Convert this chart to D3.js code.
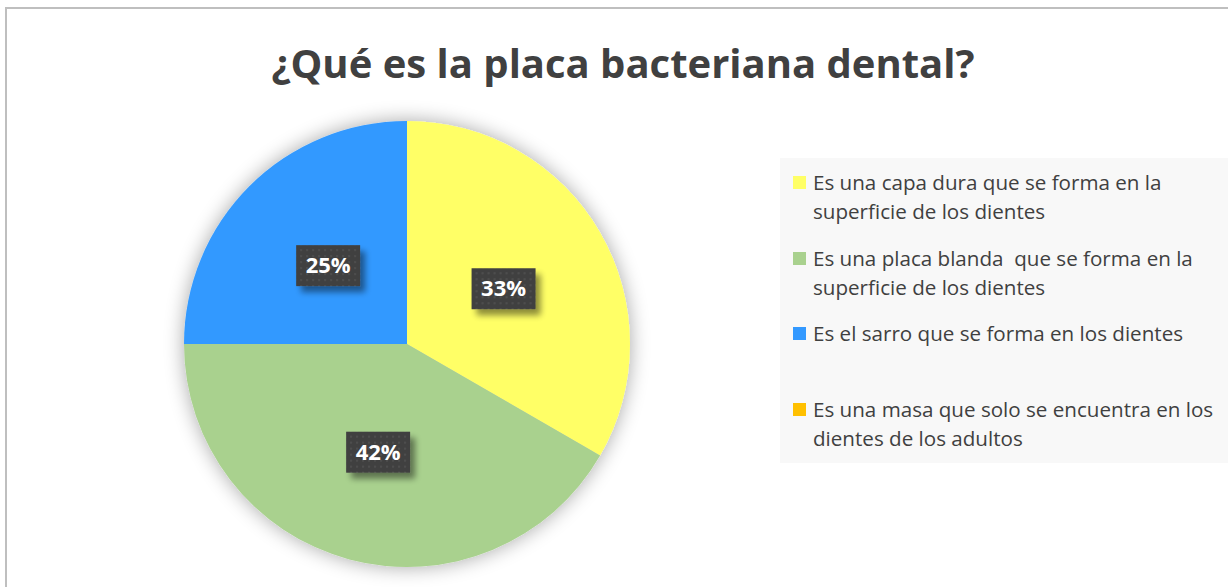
<!DOCTYPE html>
<html>
<head>
<meta charset="utf-8">
<script src="https://cdnjs.cloudflare.com/ajax/libs/d3/7.8.5/d3.min.js"></script>
<style>
  body { margin: 0; background: #fff; }
  svg text { font-family: "Open Sans", "DejaVu Sans", sans-serif; white-space: pre; }
</style>
</head>
<body>
<div id="chart-container"></div>
<script>
// data
var categories = [
  "Es una capa dura que se forma en la superficie de los dientes",
  "Es una placa blanda  que se forma en la superficie de los dientes",
  "Es el sarro que se forma en los dientes",
  "Es una masa que solo se encuentra en los dientes de los adultos"
];
var legendLines = [
  ["Es una capa dura que se forma en la", "superficie de los dientes"],
  ["Es una placa blanda  que se forma en la", "superficie de los dientes"],
  ["Es el sarro que se forma en los dientes"],
  ["Es una masa que solo se encuentra en los", "dientes de los adultos"]
];
var values = [4, 5, 3, 0];
var colors = ["#FFFF66", "#A9D18E", "#3399FF", "#FFC000"];

var width = 1228, height = 587;
var svg = d3.select("#chart-container").append("svg")
  .attr("width", width)
  .attr("height", height);

var defs = svg.append("defs");

// soft glow around the pie
var glow = defs.append("filter").attr("id", "glow")
  .attr("x", "-20%").attr("y", "-20%").attr("width", "140%").attr("height", "140%");
glow.append("feGaussianBlur").attr("in", "SourceAlpha").attr("stdDeviation", 10).attr("result", "b");
glow.append("feComponentTransfer").attr("in", "b").attr("result", "b2")
  .append("feFuncA").attr("type", "linear").attr("slope", 0.35);
var gm = glow.append("feMerge");
gm.append("feMergeNode").attr("in", "b2");
gm.append("feMergeNode").attr("in", "SourceGraphic");

// label box shadow
var sh = defs.append("filter").attr("id", "lblshadow")
  .attr("x", "-30%").attr("y", "-30%").attr("width", "170%").attr("height", "180%");
sh.append("feGaussianBlur").attr("in", "SourceAlpha").attr("stdDeviation", 3).attr("result", "b");
sh.append("feOffset").attr("in", "b").attr("dx", 5).attr("dy", 6).attr("result", "o");
sh.append("feComponentTransfer").attr("in", "o").attr("result", "o2")
  .append("feFuncA").attr("type", "linear").attr("slope", 0.45);
var sm = sh.append("feMerge");
sm.append("feMergeNode").attr("in", "o2");
sm.append("feMergeNode").attr("in", "SourceGraphic");

// dotted pattern for label boxes
var pat = defs.append("pattern").attr("id", "dots")
  .attr("width", 6).attr("height", 6).attr("patternUnits", "userSpaceOnUse");
pat.append("rect").attr("width", 6).attr("height", 6).attr("fill", "#404040");
pat.append("circle").attr("cx", 3).attr("cy", 3).attr("r", 0.9).attr("fill", "#555");

// chart frame
svg.append("rect")
  .attr("x", 6).attr("y", 8)
  .attr("width", 1240).attr("height", 600)
  .attr("fill", "#fff")
  .attr("stroke", "#BFBFBF")
  .attr("stroke-width", 2);

// title
svg.append("text")
  .attr("x", 623).attr("y", 78)
  .attr("text-anchor", "middle")
  .attr("font-size", 40)
  .attr("font-weight", "bold")
  .attr("fill", "#404040")
  .text("¿Qué es la placa bacteriana dental?");

// pie
var cx = 407, cy = 344, radius = 223;
var pie = d3.pie().sort(null).value(function(d) { return d; });
var arc = d3.arc().innerRadius(0).outerRadius(radius);
var arcs = pie(values);

var g = svg.append("g").attr("transform", "translate(" + cx + "," + cy + ")");
g.append("g").attr("filter", "url(#glow)")
  .selectAll("path")
  .data(arcs)
  .enter().append("path")
  .attr("d", arc)
  .attr("fill", function(d, i) { return colors[i]; });

// data labels
var total = d3.sum(values);
var labelArc = d3.arc().innerRadius(radius * 0.5).outerRadius(radius * 0.5);
var lbl = g.selectAll(".lbl")
  .data(arcs.filter(function(d) { return d.value > 0; }))
  .enter().append("g")
  .attr("class", "lbl")
  .attr("transform", function(d) {
    var c = labelArc.centroid(d);
    return "translate(" + c[0] + "," + c[1] + ")";
  });
lbl.append("rect")
  .attr("x", -32).attr("y", -20)
  .attr("width", 64).attr("height", 41)
  .attr("fill", "url(#dots)")
  .attr("filter", "url(#lblshadow)");
lbl.append("text")
  .attr("text-anchor", "middle")
  .attr("dy", 8)
  .attr("font-size", 22)
  .attr("font-weight", "bold")
  .attr("fill", "#fff")
  .text(function(d) { return Math.round(d.value / total * 100) + "%"; });

// legend
var legend = svg.append("g");
legend.append("rect")
  .attr("x", 780).attr("y", 158)
  .attr("width", 448).attr("height", 305)
  .attr("fill", "#F8F8F8");

var legendY = [190, 266, 341, 417];
var item = legend.selectAll(".item")
  .data(categories)
  .enter().append("g")
  .attr("class", "item")
  .attr("transform", function(d, i) { return "translate(793," + legendY[i] + ")"; });
item.append("rect")
  .attr("x", 0).attr("y", -14)
  .attr("width", 13).attr("height", 13)
  .attr("fill", function(d, i) { return colors[i]; });
item.append("text")
  .attr("x", 20).attr("y", 0)
  .attr("font-size", 20.6)
  .attr("fill", "#404040")
  .each(function(d, i) {
    var t = d3.select(this);
    legendLines[i].forEach(function(line, j) {
      t.append("tspan").attr("x", 20).attr("dy", j === 0 ? 0 : 29).text(line);
    });
  });
</script>
</body>
</html>
